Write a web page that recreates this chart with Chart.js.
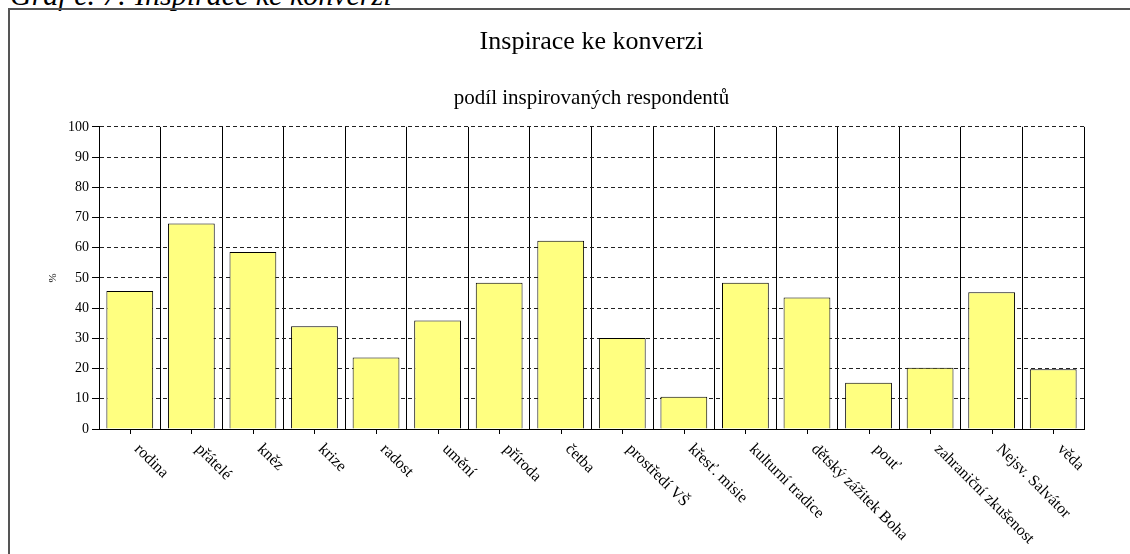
<!DOCTYPE html>
<html lang="cs">
<head>
<meta charset="utf-8">
<title>Inspirace ke konverzi</title>
<script src="https://cdn.jsdelivr.net/npm/chart.js@4.4.0/dist/chart.umd.min.js"></script>
<style>
  html, body { margin: 0; padding: 0; background: #fff; overflow: hidden; }
  body { width: 1130px; height: 554px; position: relative; font-family: "Liberation Serif", "Times New Roman", serif; }
  #popisek { position: absolute; left: 10px; top: -20px; font-size: 30px; line-height: 1; font-style: italic; white-space: nowrap; color: #000; }
  #ramecek { position: absolute; left: 8px; top: 8px; width: 1200px; height: 600px; border: 2px solid #555; box-sizing: border-box; }
  #obal { position: absolute; left: 0; top: 0; width: 1130px; height: 554px; }
</style>
</head>
<body>
<div id="popisek">Graf č. 7: Inspirace ke konverzi</div>
<div id="ramecek"></div>
<div id="obal"><canvas id="graf" width="1130" height="554"></canvas></div>

<script>
/* ---- Data ---- */
const kategorie = [
  "rodina", "přátelé", "kněz", "krize", "radost", "umění", "příroda", "četba",
  "prostředí VŠ", "křesť. misie", "kulturní tradice", "dětský zážitek Boha",
  "pouť", "zahraniční zkušenost", "Nejsv. Salvátor", "věda"
];
const podil = [45.7, 68.0, 58.6, 34.0, 23.7, 35.9, 48.4, 62.3, 30.1, 10.7, 48.4, 43.5, 15.3, 20.3, 45.3, 19.8];
const osaYMin = 0;
const osaYMax = 100;
const osaYKrok = 10;

const PISMO = "'Liberation Serif', 'Times New Roman', serif";

/* ---- Popisky osy X: otočené o 45° po směru hodin, značky uprostřed kategorií ---- */
const popiskyOsyX = {
  id: "popiskyOsyX",
  afterDraw(chart) {
    const osa = chart.scales.x;
    const ctx = chart.ctx;
    ctx.save();
    ctx.strokeStyle = "#000";
    ctx.lineWidth = 1;
    ctx.fillStyle = "#000";
    ctx.font = "16px " + PISMO;
    kategorie.forEach((text, i) => {
      const x = Math.round(osa.getPixelForTick(i)) + 0.5;
      ctx.beginPath();
      ctx.moveTo(x, osa.top);
      ctx.lineTo(x, osa.top + 5);
      ctx.stroke();

      ctx.save();
      ctx.translate(x + 12, osa.top + 12);
      ctx.rotate(Math.PI / 4);
      ctx.textAlign = "left";
      ctx.textBaseline = "top";
      ctx.fillText(text, 0, 0);
      ctx.restore();
    });
    ctx.restore();
  }
};

const ctx = document.getElementById("graf").getContext("2d");

new Chart(ctx, {
  type: "bar",
  data: {
    labels: kategorie,
    datasets: [{
      data: podil,
      backgroundColor: "#ffff80",
      borderColor: "#000",
      borderWidth: 1,
      barPercentage: 0.76,
      categoryPercentage: 1
    }]
  },
  options: {
    responsive: false,
    animation: false,
    layout: { padding: { left: 30, right: 46, top: 27, bottom: 0 } },
    plugins: {
      legend: { display: false },
      tooltip: { enabled: false },
      title: {
        display: true,
        fullSize: false,
        text: "Inspirace ke konverzi",
        color: "#000",
        font: { family: PISMO, size: 26, weight: "normal", lineHeight: 1.2 },
        padding: { top: 0, bottom: 0 }
      },
      subtitle: {
        display: true,
        fullSize: false,
        text: "podíl inspirovaných respondentů",
        color: "#000",
        font: { family: PISMO, size: 21, weight: "normal", lineHeight: 1.2 },
        padding: { top: 27.5, bottom: 16 }
      }
    },
    scales: {
      x: {
        grid: { offset: true, color: "#000", lineWidth: 1, drawTicks: false },
        border: { color: "#000", width: 1 },
        ticks: { display: false },
        afterFit(s) { s.height = 125; }
      },
      y: {
        min: osaYMin,
        max: osaYMax,
        ticks: {
          stepSize: osaYKrok,
          color: "#000",
          padding: 3,
          font: { family: PISMO, size: 14 }
        },
        grid: { color: "#222", lineWidth: 1, tickLength: 7, tickColor: "#000", tickBorderDash: [] },
        border: { color: "#000", width: 1, dash: [4, 3] },
        title: {
          display: true,
          text: "%",
          color: "#000",
          font: { family: PISMO, size: 11 },
          padding: { top: 17, bottom: 0 }
        },
        afterFit(s) { s.width = 69; }
      }
    }
  },
  plugins: [popiskyOsyX]
});
</script>
</body>
</html>
